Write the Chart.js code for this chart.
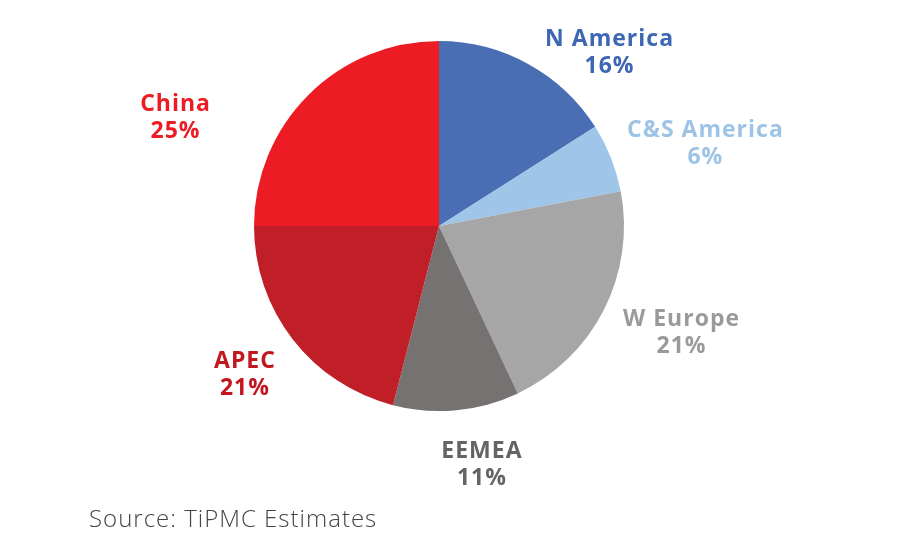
<!DOCTYPE html>
<html>
<head>
<meta charset="utf-8">
<script src="https://cdn.jsdelivr.net/npm/chart.js@4/dist/chart.umd.min.js"></script>
<style>
  html, body { margin: 0; padding: 0; background: #ffffff; }
  #wrap { position: relative; width: 900px; height: 550px; }
  #source { position: absolute; left: 89px; top: 502px; font-family: "Open Sans", sans-serif; font-weight: 300; font-size: 24px; line-height: 32px; color: #444444; letter-spacing: 1px; }
</style>
</head>
<body>
<div id="wrap">
  <canvas id="c" width="900" height="550"></canvas>
  <div id="source">Source: TiPMC Estimates</div>
</div>
<script>
const categories = ["N America", "C&S America", "W Europe", "EEMEA", "APEC", "China"];
const shares = [16, 6, 21, 11, 21, 25];
const shareLabels = ["16%", "6%", "21%", "11%", "21%", "25%"];

const sliceColors = ["#4a6eb4", "#9fc5e8", "#a6a6a6", "#767272", "#c01f27", "#ed1c24"];
const textColors = ["#3d66b3", "#9dc3e6", "#9a9a9a", "#646464", "#c3161f", "#ed1c24"];
// label centre offsets relative to pie centre, in units of radius (layout only)
const labelOffsets = [[0.922, -0.90], [1.44, -0.41], [1.311, 0.611], [0.232, 1.327], [-1.049, 0.843], [-1.424, -0.551]];

const labelPlugin = {
  id: 'outerLabels',
  afterDatasetsDraw(chart) {
    const ctx = chart.ctx;
    const arc = chart.getDatasetMeta(0).data[0];
    const cx = arc.x, cy = arc.y, r = arc.outerRadius;
    ctx.save();
    ctx.textAlign = 'center';
    ctx.textBaseline = 'alphabetic';
    ctx.font = 'bold 23px "Open Sans", sans-serif';
    if ('letterSpacing' in ctx) ctx.letterSpacing = '1px';
    categories.forEach((name, i) => {
      const x = cx + labelOffsets[i][0] * r;
      const y = cy + labelOffsets[i][1] * r;
      ctx.fillStyle = textColors[i];
      ctx.fillText(name, x, y - 13.5);
      ctx.fillText(shareLabels[i], x, y + 13.5);
    });
    ctx.restore();
  }
};

new Chart(document.getElementById('c'), {
  type: 'pie',
  data: {
    labels: categories,
    datasets: [{
      data: shares,
      backgroundColor: sliceColors,
      borderWidth: 0
    }]
  },
  options: {
    responsive: false,
    animation: false,
    layout: { padding: { top: 41, bottom: 139, left: 254, right: 276 } },
    plugins: { legend: { display: false }, tooltip: { enabled: false } }
  },
  plugins: [labelPlugin]
});
</script>
</body>
</html>
